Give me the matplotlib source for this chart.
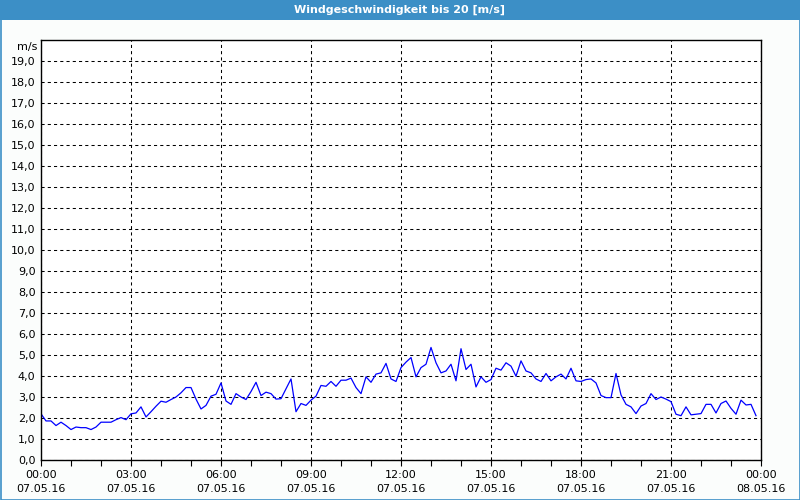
"""
Windgeschwindigkeit 07.05.16 (10-Minuten-Werte)
"""

import numpy as np
import matplotlib.pyplot as plt
from matplotlib.patches import Rectangle

## data

# one value every 10 min, 00:00 .. 23:50
wind = [2.2, 1.86, 1.86, 1.64, 1.8, 1.64, 1.45, 1.57, 1.54, 1.54, 1.45, 1.57,
        1.8, 1.8, 1.8, 1.92, 2.02, 1.92, 2.2, 2.24, 2.53, 2.05, 2.3, 2.56,
        2.8, 2.75, 2.88, 3.0, 3.2, 3.45, 3.45, 2.9, 2.43, 2.6, 3.04, 3.13,
        3.67, 2.81, 2.65, 3.16, 3.0, 2.88, 3.26, 3.7, 3.07, 3.23, 3.16, 2.9,
        2.92, 3.39, 3.86, 2.3, 2.69, 2.6, 2.85, 3.04, 3.55, 3.51, 3.74, 3.51,
        3.8, 3.8, 3.9, 3.45, 3.16, 3.96, 3.7, 4.09, 4.15, 4.6, 3.86, 3.74,
        4.4, 4.66, 4.88, 3.96, 4.4, 4.56, 5.36, 4.63, 4.15, 4.24, 4.56, 3.77,
        5.3, 4.31, 4.56, 3.48, 3.96, 3.7, 3.83, 4.37, 4.28, 4.63, 4.47, 3.99,
        4.72, 4.24, 4.15, 3.86, 3.74, 4.12, 3.77, 3.96, 4.09, 3.86, 4.37, 3.77,
        3.74, 3.83, 3.86, 3.67, 3.07, 2.97, 2.97, 4.12, 3.1, 2.65, 2.53, 2.21,
        2.57, 2.69, 3.16, 2.88, 3.0, 2.9, 2.78, 2.18, 2.11, 2.53, 2.15, 2.18,
        2.21, 2.65, 2.65, 2.24, 2.69, 2.81, 2.46, 2.18, 2.85, 2.62, 2.65, 2.11]
hours = np.arange(len(wind)) / 6.0

xtick_hours = [0, 3, 6, 9, 12, 15, 18, 21, 24]
xtick_labels = ['00:00\n07.05.16', '03:00\n07.05.16', '06:00\n07.05.16',
                '09:00\n07.05.16', '12:00\n07.05.16', '15:00\n07.05.16',
                '18:00\n07.05.16', '21:00\n07.05.16', '00:00\n08.05.16']
ytick_values = list(range(0, 20))
ytick_labels = ['%d,0' % v for v in ytick_values]
unit = 'm/s'

title = 'Windgeschwindigkeit bis 20 [m/s]'

## plot

plt.close('all')
fig = plt.figure(figsize=(8, 5), dpi=100, facecolor='#fbfdfc')
ax = fig.add_axes([41/800, 40/500, 720/800, 420/500])
ax.set_facecolor('white')

ax.plot(hours, wind, color='#0000ff', linewidth=0.9)

ax.set_xlim(0, 24)
ax.set_ylim(0, 20)
ax.set_xticks(xtick_hours)
ax.set_xticklabels(xtick_labels, fontsize=8, linespacing=1.55)
ax.set_xticks(range(0, 25), minor=True)
ax.set_yticks(ytick_values)
ax.set_yticklabels(ytick_labels, fontsize=8)

ax.tick_params(axis='x', which='both', direction='out', length=4, width=0.8, pad=3)
ax.tick_params(axis='y', length=0, pad=4)

ax.grid(True, which='major', color='black', linewidth=0.75, linestyle=(0, (3, 3)))
for s in ax.spines.values():
    s.set_linewidth(1.0)
    s.set_color('black')

# unit label above the y ticks
ax.text(-0.0055, 19.68, unit, transform=ax.get_yaxis_transform(), fontsize=8,
        ha='right', va='center')

# title bar
fig.patches.append(Rectangle((0, 1 - 20/500), 1, 20/500, transform=fig.transFigure,
                             facecolor='#3c8fc6', edgecolor='none', zorder=0))
fig.text(0.5, 1 - 10/500, title, color='white', fontsize=8, fontweight='bold',
         ha='center', va='center')
# blue frame
fig.patches.append(Rectangle((0.5/800, 0.5/500), 799/800, 499/500, transform=fig.transFigure,
                             facecolor='none', edgecolor='#3c8fc6', linewidth=1.2))

fig.savefig('out.png', dpi=100, facecolor=fig.get_facecolor())
